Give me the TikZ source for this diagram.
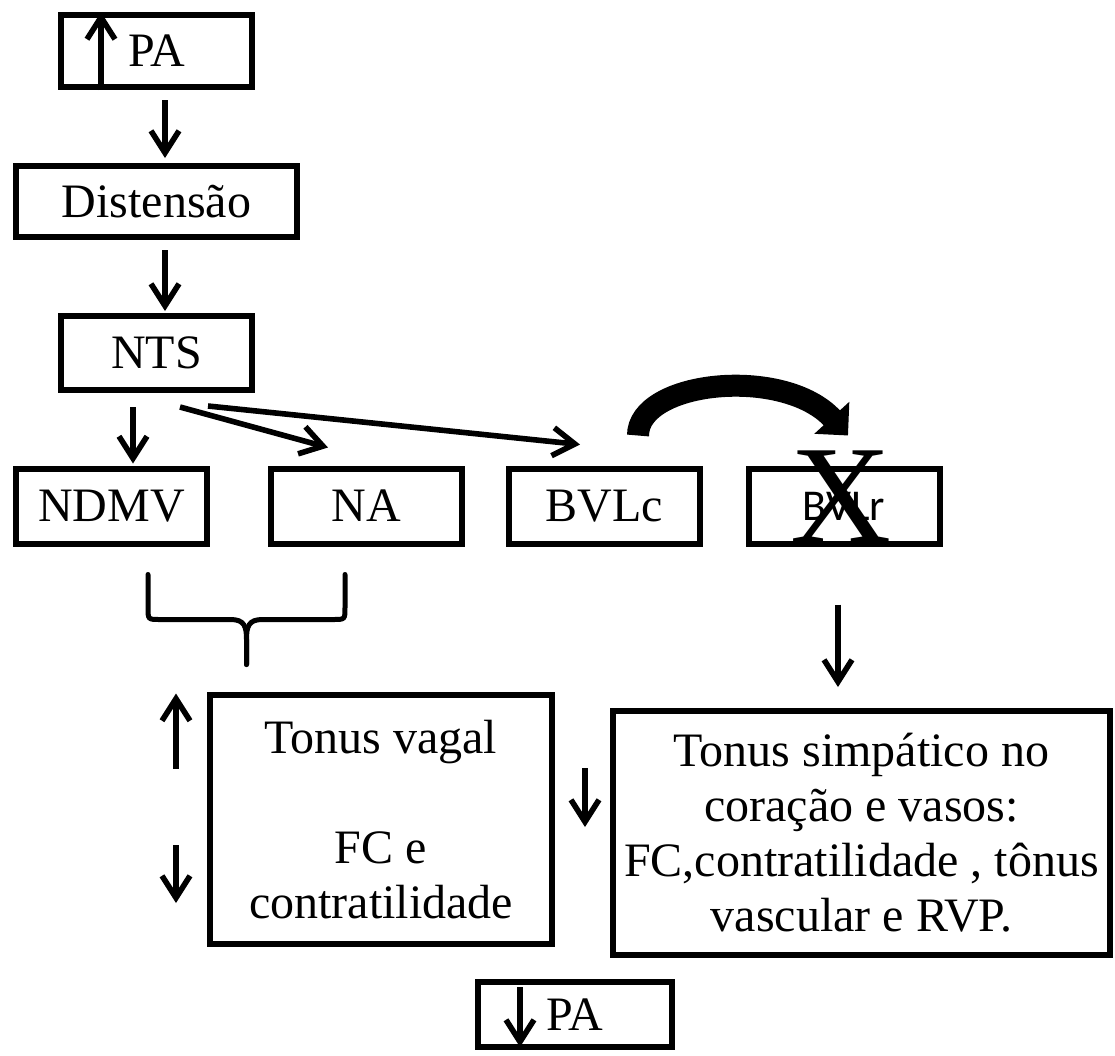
\documentclass[tikz,border=0pt]{standalone}
\usepackage{fontspec}
\setmainfont{Liberation Serif}
\newfontfamily\bvlfont{Carlito}
\usetikzlibrary{arrows.meta,calc}
\tikzset{%
	block/.style    = {draw, rectangle, line width=3pt, inner sep=0pt, align=center, font=\fontsize{24}{27.5}\selectfont},
	small/.style    = {block, minimum width=95.5pt, minimum height=37.5pt}, % Nucleus
	arrow/.style    = {line width=2.8pt, -{Straight Barb[length=11pt,width=14pt]}},
	bigarrow/.style = {line width=11pt, -{Triangle[length=12pt,width=23pt]}}, % Inhibition
	brace/.style    = {line width=2.5pt, line cap=round},
}
\begin{document}
\begin{tikzpicture}[x=0.5pt,y=-0.5pt]
		\useasboundingbox (0,0) rectangle (1115,1056);
		\node[block, minimum width=95.5pt, minimum height=36pt] (pa1) at (156.5,51) {PA};
		\node[block, minimum width=140.5pt, minimum height=35.5pt] (dist) at (156.5,201.5) {Distensão};
		\node[small, minimum height=37pt] (nts) at (156.5,353) {NTS};
		\node[small] (ndmv) at (111.5,506) {NDMV};
		\node[small] (na) at (366.5,506) {NA};
		\node[small] (bvlc) at (604,506) {BVLc};
		\node[small, font=\bvlfont\fontsize{22}{26}\selectfont] (bvlr) at (844,506) {BVLr};
		\node[inner sep=0pt, font=\fontsize{70}{70}\selectfont] (cross) at (841,497) {X};
		\node[block, minimum width=171pt, minimum height=124.5pt] (vagal) at (381,819.5) {Tonus vagal\\[27.5pt]FC e\\contratilidade};
		\node[block, minimum width=248.5pt, minimum height=122pt] (simp) at (861.5,833) {Tonus simpático no\\coração e vasos:\\FC,contratilidade , tônus\\vascular e RVP.};
		\node[block, minimum width=97pt, minimum height=32.5pt] (pa2) at (575,1014.5) {PA};
		% up and down marks
		\draw[arrow] ($(pa1.south west)+(43,0)$) -- ($(pa1.north west)+(43,0)$);
		\draw[arrow] ($(pa2.north west)+(45,8)$) -- ($(pa2.south west)+(45,-3)$);
		\draw[arrow] ([shift={(-31,-51)}]vagal.west) -- ([shift={(-31,-126)}]vagal.west);
		\draw[arrow] ([shift={(-31,25.5)}]vagal.west) -- ([shift={(-31,83.5)}]vagal.west);
		\draw[arrow] ([shift={(30,-51.5)}]vagal.east) -- ([shift={(30,7.5)}]vagal.east);
		% pathway
		\draw[arrow] ([shift={(8.5,10)}]pa1.south) -- ([shift={(8.5,-5)}]dist.north);
		\draw[arrow] ([shift={(8.5,10)}]dist.south) -- ([shift={(8.5,-2)}]nts.north);
		\draw[arrow] ([shift={(-23.5,14)}]nts.south) -- ([shift={(21.5,-2)}]ndmv.north);
		\draw[arrow] ([shift={(23.5,14)}]nts.south) -- ([shift={(-38.5,-18)}]na.north);
		\draw[arrow] ([shift={(51.5,13)}]nts.south) -- ([shift={(-24,-21)}]bvlc.north);
		\draw[bigarrow] ([shift={(34,-30)}]bvlc.north) .. controls ([shift={(34,-85)}]bvlc.north) and ([shift={(-60,-100)}]bvlr.north) .. ([shift={(4,-30)}]bvlr.north);
		\draw[arrow] ([shift={(-6,58)}]bvlr.south) -- ([shift={(-23.5,-21)}]simp.north);
		% brace under NDMV and NA
		\coordinate (brl) at ([shift={(36.5,28)}]ndmv.south);
		\coordinate (brr) at ([shift={(-21.5,28)}]na.south);
		\coordinate (brtip) at ($(brl)!0.5!(brr)+(0,90)$);
		\draw[brace] (brl) -- ($(brl)+(0,33)$) .. controls ($(brl)+(0,45)$) .. ($(brl)+(12,45)$) -- ($(brtip)+(-16,-45)$) .. controls ($(brtip)+(-2,-45)$) and ($(brtip)+(0,-38)$) .. ($(brtip)+(0,-25)$) -- (brtip);
		\draw[brace] (brr) -- ($(brr)+(0,33)$) .. controls ($(brr)+(0,45)$) .. ($(brr)+(-12,45)$) -- ($(brtip)+(16,-45)$) .. controls ($(brtip)+(2,-45)$) and ($(brtip)+(0,-38)$) .. ($(brtip)+(0,-25)$) -- (brtip);
		\end{tikzpicture}
\end{document}
